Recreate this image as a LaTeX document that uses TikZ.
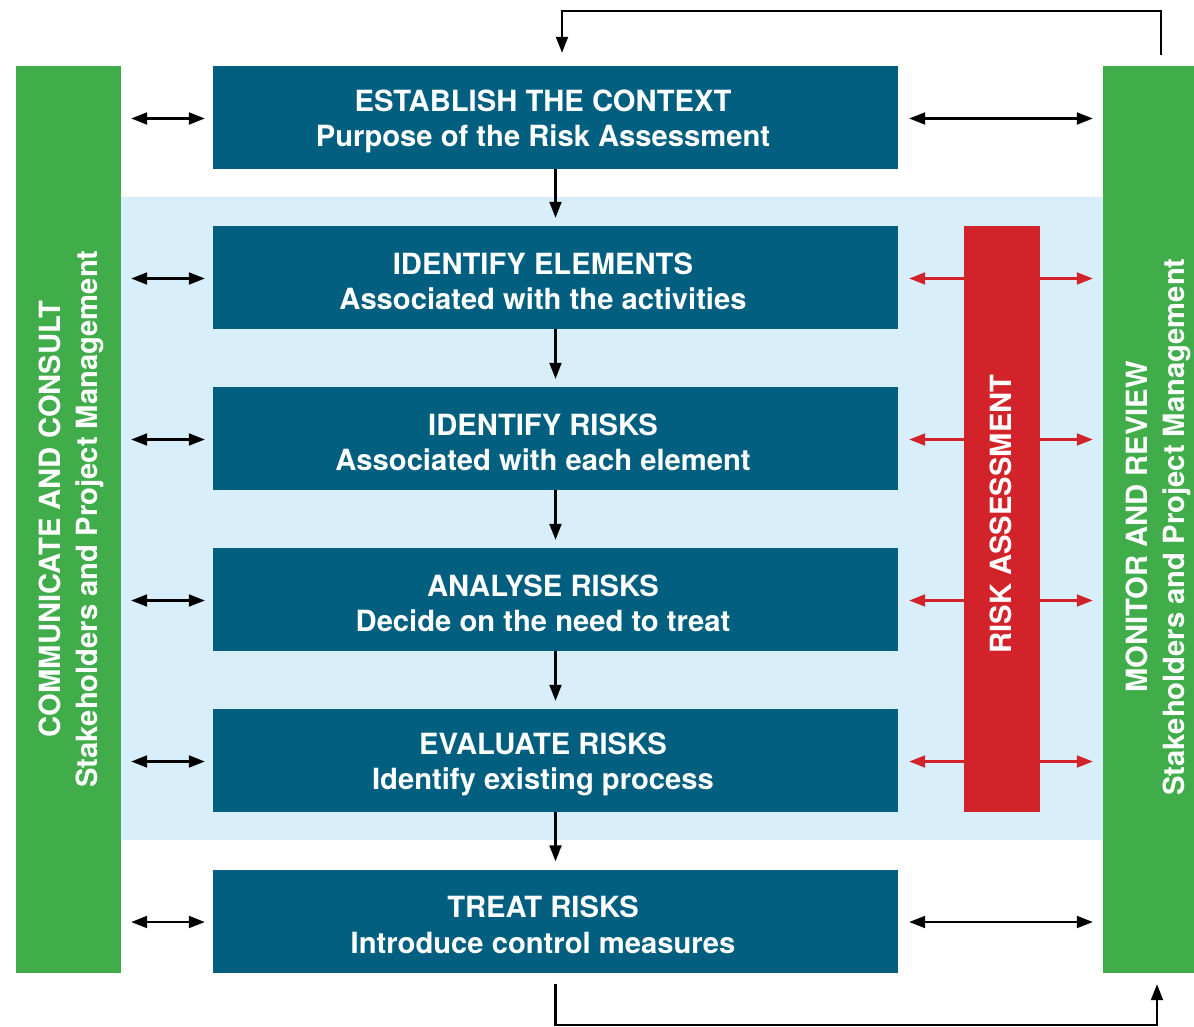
\documentclass[tikz,border=0pt]{standalone}
\usepackage{fontspec}
\setmainfont{TeX Gyre Heros}
\usetikzlibrary{arrows.meta,calc}
\definecolor{boxblue}{HTML}{025F7F}
\definecolor{bargreen}{HTML}{40AC4A}
\definecolor{bandblue}{HTML}{D8EEFA}
\definecolor{barred}{HTML}{D2232A}
\begin{document}
\begin{tikzpicture}[x=1pt,y=-1pt,
  stagebox/.style={fill=boxblue,draw=none,minimum width=685pt,minimum height=103pt,inner sep=0pt},
  stagetext/.style={text=white,align=center,xshift=-12.5pt,yshift=-4pt,font=\bfseries\fontsize{29.2}{35.5}\selectfont},
  sidebar/.style={fill=bargreen,draw=none,minimum height=907pt,inner sep=0pt},
  sidetext/.style={text=white,align=center,rotate=90,font=\bfseries\fontsize{29.2}{37}\selectfont},
  conn/.style={line width=2.1pt,>={Triangle[length=16pt,width=12pt]}},
]
\useasboundingbox (0,0) rectangle (1194,1027);
\fill[white] (0,0) rectangle (1194,1027);
% band
\node[fill=bandblue,draw=none,minimum width=982pt,minimum height=643pt,inner sep=0pt,anchor=north west] (band) at (121,197) {};
% bars
\node[sidebar,minimum width=105pt] (left) at (68.5,519.5) {};
\node[sidebar,minimum width=91pt] (right) at (1148.5,519.5) {};
\node[sidetext] (lefttext) at (71.5,519) {COMMUNICATE AND CONSULT\\Stakeholders and Project Management};
\node[sidetext] (righttext) at (1158.5,527) {MONITOR AND REVIEW\\Stakeholders and Project Management};
% stage boxes
\node[stagebox,label={[stagetext]center:ESTABLISH THE CONTEXT\\Purpose of the Risk Assessment}] (b1) at (555.5,117.5) {};
\node[stagebox,label={[stagetext]center:IDENTIFY ELEMENTS\\Associated with the activities}] (b2) at (555.5,277.5) {};
\node[stagebox,label={[stagetext]center:IDENTIFY RISKS\\Associated with each element}] (b3) at (555.5,438.5) {};
\node[stagebox,label={[stagetext]center:ANALYSE RISKS\\Decide on the need to treat}] (b4) at (555.5,599.5) {};
\node[stagebox,label={[stagetext]center:EVALUATE RISKS\\Identify existing process}] (b5) at (555.5,760.5) {};
\node[stagebox,label={[stagetext]center:TREAT RISKS\\Introduce control measures}] (b6) at (555.5,921) {};
% vertical arrows
\foreach \a/\b in {b1/b2,b2/b3,b3/b4,b4/b5,b5/b6}
  \draw[conn,->] (\a.south) -- ([yshift=8pt]\b.north);
% left arrows
\foreach \b in {b1,b2,b3,b4,b5,b6}
  \draw[conn,<->] ([xshift=10pt,yshift=-1pt]left.east |- \b.west) -- ([xshift=-8pt,yshift=-1pt]\b.west);
% right black arrows
\foreach \b in {b1,b6}
  \draw[conn,<->] ([xshift=11pt,yshift=-1pt]\b.east) -- ([xshift=-10pt,yshift=-1pt]right.west |- \b.east);
% right red arrows
\foreach \b in {b2,b3,b4,b5}
  \draw[conn,<->,barred] ([xshift=11pt,yshift=-1pt]\b.east) -- ([xshift=-10pt,yshift=-1pt]right.west |- \b.east);
% red bar
\node[fill=barred,draw=none,minimum width=76pt,minimum height=586pt,inner sep=0pt] (red) at (1002,519) {};
\node[text=white,rotate=90,font=\bfseries\fontsize{29.2}{35}\selectfont] (redtext) at (1001,514) {RISK ASSESSMENT};
% top loop
\coordinate (tstart) at ([xshift=12.5pt,yshift=11pt]right.north);
\coordinate (tend) at ([xshift=6.5pt,yshift=13pt]b1.north);
\draw[conn,->] (tstart) -- (tstart |- 0,11) -- (tend |- 0,11) -- (tend);
% bottom loop
\coordinate (bstart) at ([yshift=-11pt]b6.south);
\coordinate (bend) at ([xshift=8.5pt,yshift=-11pt]right.south);
\draw[conn,->] (bstart) -- (bstart |- 0,1025) -- (bend |- 0,1025) -- (bend);
\end{tikzpicture}
\end{document}
